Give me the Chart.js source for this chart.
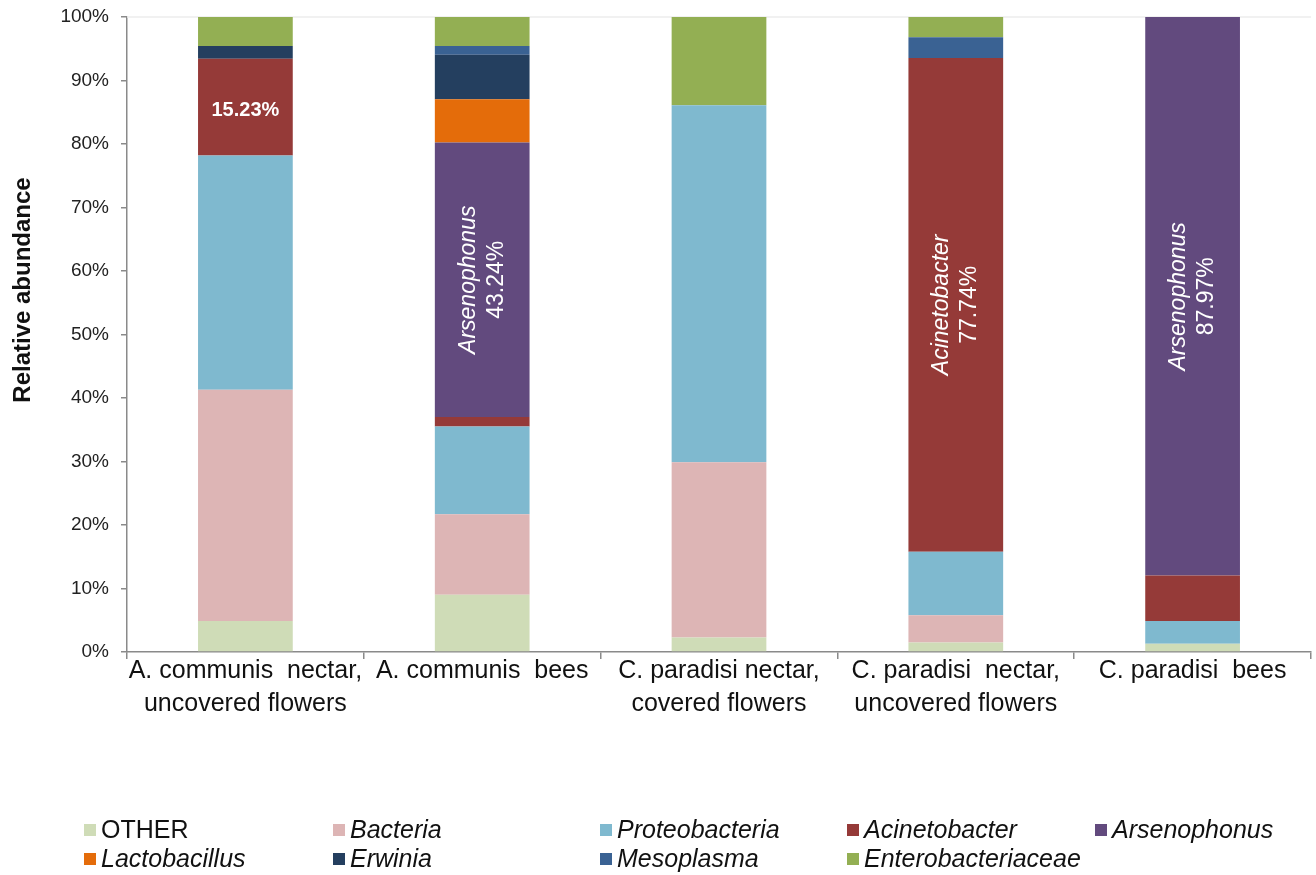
<!DOCTYPE html>
<html>
<head>
<meta charset="utf-8">
<title>Relative abundance</title>
<script src="https://cdn.jsdelivr.net/npm/chart.js@4.4.1/dist/chart.umd.min.js"></script>
<style>
  body { margin: 0; background: #fff; }
  #wrap { width: 1316px; height: 875px; position: relative; }
</style>
</head>
<body>
<div id="wrap"><canvas id="barChart"></canvas></div>
<script>
// categories (x axis)
var categories = [
  ['A. communis  nectar,', 'uncovered flowers'],
  'A. communis  bees',
  ['C. paradisi nectar,', 'covered flowers'],
  ['C. paradisi  nectar,', 'uncovered flowers'],
  'C. paradisi  bees'
];

// series values, % (stacked bottom -> top)
var otherVals    = [4.9, 9.0, 2.3, 1.5, 1.3];
var bacteriaVals = [36.4, 12.7, 27.6, 4.3, 0];
var proteoVals   = [36.9, 13.8, 56.2, 10.0, 3.6];
var acinetoVals  = [15.23, 1.5, 0, 77.74, 7.13];
var arsenoVals   = [0, 43.24, 0, 0, 87.97];
var lactoVals    = [0, 6.8, 0, 0, 0];
var erwiniaVals  = [2.0, 7.0, 0, 0, 0];
var mesoVals     = [0, 1.4, 0, 3.26, 0];
var enteroVals   = [4.57, 4.56, 13.9, 3.2, 0];

var seriesNames = ['OTHER', 'Bacteria', 'Proteobacteria', 'Acinetobacter', 'Arsenophonus',
                   'Lactobacillus', 'Erwinia', 'Mesoplasma', 'Enterobacteriaceae'];
var seriesColors = ['#cfdcb7', '#ddb5b5', '#7fb9cf', '#953a38', '#624a7e',
                    '#e46c0a', '#243f5f', '#3a6293', '#93af53'];
var seriesData = [otherVals, bacteriaVals, proteoVals, acinetoVals, arsenoVals,
                  lactoVals, erwiniaVals, mesoVals, enteroVals];

// y tick labels
var yTicks = [0, 10, 20, 30, 40, 50, 60, 70, 80, 90, 100];
var yTitle = 'Relative abundance';

// text written inside some bars: series index, bar index, lines
var barNotes = [
  { series: 3, bar: 0, lines: ['15.23%'], vertical: false },
  { series: 4, bar: 1, lines: ['Arsenophonus', '43.24%'], vertical: true },
  { series: 3, bar: 3, lines: ['Acinetobacter', '77.74%'], vertical: true },
  { series: 4, bar: 4, lines: ['Arsenophonus', '87.97%'], vertical: true }
];

var datasets = seriesNames.map(function (name, i) {
  return {
    label: name,
    data: seriesData[i],
    backgroundColor: seriesColors[i],
    borderWidth: 0,
    barPercentage: 0.4,
    categoryPercentage: 1.0
  };
});

// faint line at 100% + y axis title (drawn a bit above centre like the original)
var topLine = {
  id: 'topLine',
  beforeDatasetsDraw: function (chart) {
    var c = chart.ctx, a = chart.chartArea, y = chart.scales.y.getPixelForValue(100);
    c.save();
    c.strokeStyle = '#ececec';
    c.lineWidth = 1.5;
    c.beginPath();
    c.moveTo(a.left, y);
    c.lineTo(a.right, y);
    c.stroke();
    c.translate(23, 290);
    c.rotate(-Math.PI / 2);
    c.fillStyle = '#111';
    c.textAlign = 'center';
    c.textBaseline = 'middle';
    c.font = 'bold 24px "Liberation Sans", Arial, sans-serif';
    c.fillText(yTitle, 0, 0);
    c.restore();
  }
};

// labels inside bars
var barText = {
  id: 'barText',
  afterDatasetsDraw: function (chart) {
    var c = chart.ctx;
    barNotes.forEach(function (n) {
      var el = chart.getDatasetMeta(n.series).data[n.bar];
      var cx = el.x, cy = (el.y + el.base) / 2;
      c.save();
      c.fillStyle = '#ffffff';
      c.textAlign = 'center';
      c.textBaseline = 'middle';
      if (!n.vertical) {
        c.font = 'bold 20px "Liberation Sans", Arial, sans-serif';
        c.fillText(n.lines[0], cx, cy + 3);
      } else {
        c.translate(cx, cy);
        c.rotate(-Math.PI / 2);
        c.font = 'italic 23px "Liberation Sans", Arial, sans-serif';
        c.fillText(n.lines[0], 0, -14);
        c.font = '23px "Liberation Sans", Arial, sans-serif';
        c.fillText(n.lines[1], 0, 14);
      }
      c.restore();
    });
  }
};

// legend in 5 columns, 2 rows
var gridLegend = {
  id: 'gridLegend',
  afterDraw: function (chart) {
    var c = chart.ctx;
    var colX = [84, 333, 600, 847, 1095];
    var rowY = [830, 859];
    c.save();
    c.textBaseline = 'middle';
    c.textAlign = 'left';
    chart.data.datasets.forEach(function (ds, i) {
      var x = colX[i % 5], y = rowY[Math.floor(i / 5)];
      c.fillStyle = ds.backgroundColor;
      c.fillRect(x, y - 6, 12, 12);
      c.fillStyle = '#111';
      c.font = (ds.label === 'OTHER' ? '' : 'italic ') + '25px "Liberation Sans Narrow", "Liberation Sans", Arial, sans-serif';
      c.fillText(ds.label, x + 17, y + 1);
    });
    c.restore();
  }
};

var barOptions = {
  responsive: true,
  maintainAspectRatio: false,
  animation: false,
  layout: { padding: { top: 17, right: 5, left: 0, bottom: 0 } },
  plugins: {
    legend: { display: false },
    tooltip: { enabled: false }
  },
  scales: {
    x: {
      stacked: true,
      afterFit: function (s) { s.height = 223; },
      grid: { offset: true, drawOnChartArea: false, tickLength: 7, color: '#8a8a8a', lineWidth: 1.5 },
      border: { color: '#8a8a8a', width: 1.5 },
      ticks: {
        color: '#111',
        padding: -4,
        maxRotation: 0,
        autoSkip: false,
        font: { family: '"Liberation Sans Narrow", "Liberation Sans", Arial, sans-serif', size: 25, lineHeight: 1.32 }
      }
    },
    y: {
      stacked: true,
      min: 0,
      max: 100,
      afterFit: function (s) { s.width = 127; s.paddingTop = 0; s.paddingBottom = 0; },
      afterBuildTicks: function (s) { s.ticks = yTicks.map(function (v) { return { value: v }; }); },
      grid: { drawOnChartArea: false, tickLength: 6, color: '#8a8a8a', lineWidth: 1.5 },
      border: { color: '#8a8a8a', width: 1.5 },
      ticks: {
        color: '#222',
        padding: 12,
        font: { family: '"Liberation Sans", Arial, sans-serif', size: 19 },
        callback: function (v) { return v + '%'; }
      }
    }
  }
};

var ctx2 = document.getElementById('barChart').getContext('2d');
var chart = new Chart(ctx2, {
  type: 'bar',
  data: { labels: categories, datasets: datasets },
  options: barOptions,
  plugins: [topLine, barText, gridLegend]
});
</script>
</body>
</html>
